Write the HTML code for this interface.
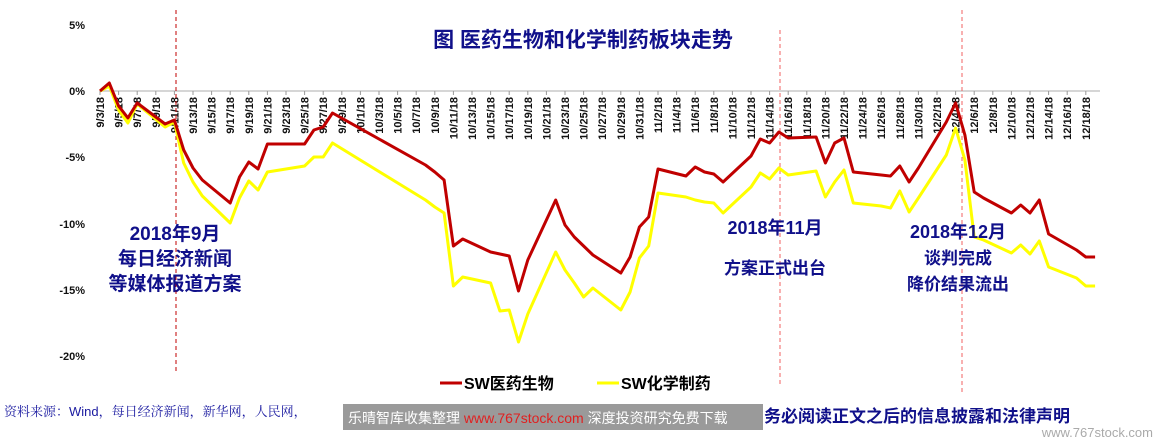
<!DOCTYPE html>
<html><head><meta charset="utf-8"><style>
html,body{margin:0;padding:0;background:#fff;}
body{width:1158px;height:441px;overflow:hidden;position:relative;font-family:"Liberation Sans","Noto Sans CJK SC",sans-serif;}
svg{position:absolute;left:0;top:0;}
</style></head><body>
<svg width="1158" height="441" viewBox="0 0 1158 441" xmlns="http://www.w3.org/2000/svg">
<line x1="100" y1="91" x2="1100" y2="91" stroke="#c8c8c8" stroke-width="1.5"/>
<g font-family="Liberation Sans, sans-serif" font-weight="bold" font-size="11" fill="#111" text-anchor="end">
<text x="85" y="29">5%</text><text x="85" y="95">0%</text><text x="85" y="161">-5%</text>
<text x="85" y="228">-10%</text><text x="85" y="294">-15%</text><text x="85" y="360">-20%</text>
</g>
<g id="xl" font-family="Liberation Sans, sans-serif" font-weight="bold" font-size="11" fill="#111" text-anchor="end"></g>
<line x1="176" y1="10" x2="176" y2="372" stroke="#c00000" stroke-width="1" stroke-dasharray="4,3"/>
<line x1="780" y1="30" x2="780" y2="385" stroke="#f06060" stroke-width="1" stroke-dasharray="4,3"/>
<line x1="962" y1="10" x2="962" y2="395" stroke="#f06060" stroke-width="1" stroke-dasharray="4,3"/>
<polyline id="yl" fill="none" stroke="#ffff00" stroke-width="3" stroke-linejoin="round"/>
<polyline id="rl" fill="none" stroke="#c00000" stroke-width="3" stroke-linejoin="round"/>
<g font-family="Liberation Sans, Noto Sans CJK SC, sans-serif" font-weight="bold" fill="#10108a">
<text x="583" y="47" font-size="21" text-anchor="middle">图 医药生物和化学制药板块走势</text>
<text x="175" y="240" font-size="19" text-anchor="middle">2018年9月</text>
<text x="175" y="265" font-size="19" text-anchor="middle">每日经济新闻</text>
<text x="175" y="290" font-size="19" text-anchor="middle">等媒体报道方案</text>
<text x="775" y="234" font-size="18" text-anchor="middle">2018年11月</text>
<text x="775" y="274" font-size="17" text-anchor="middle">方案正式出台</text>
<text x="958" y="238" font-size="18" text-anchor="middle">2018年12月</text>
<text x="958" y="264" font-size="17" text-anchor="middle">谈判完成</text>
<text x="958" y="290" font-size="17" text-anchor="middle">降价结果流出</text>
</g>
<line x1="440" y1="383" x2="462" y2="383" stroke="#c00000" stroke-width="3"/>
<text x="464" y="389" font-size="16" font-weight="bold" fill="#000" font-family="Liberation Sans, Noto Sans CJK SC, sans-serif">SW医药生物</text>
<line x1="597" y1="383" x2="619" y2="383" stroke="#ffff00" stroke-width="3"/>
<text x="621" y="389" font-size="16" font-weight="bold" fill="#000" font-family="Liberation Sans, Noto Sans CJK SC, sans-serif">SW化学制药</text>
<text x="4" y="416" font-size="13" fill="#1a1aa0" font-family="Liberation Sans, Noto Serif CJK SC, serif">资料来源：Wind，每日经济新闻，新华网，人民网，</text>
<rect x="343" y="404" width="420" height="26" fill="#888" opacity="0.85"/>
<text x="348" y="423" font-size="14" fill="#fff" font-family="Liberation Sans, Noto Sans CJK SC, sans-serif">乐晴智库收集整理 <tspan fill="#e02020">www.767stock.com</tspan> 深度投资研究免费下载</text>
<text x="764" y="422" font-size="17" font-weight="bold" fill="#10108a" font-family="Liberation Sans, Noto Sans CJK SC, sans-serif">务必阅读正文之后的信息披露和法律声明</text>
<text x="1153" y="437" font-size="13" fill="#aaa" text-anchor="end" font-family="Liberation Sans, sans-serif">www.767stock.com</text>
</svg>
<script>
var ns="http://www.w3.org/2000/svg";
function X(d){return 100+9.3*d;}
var xl=document.getElementById('xl');
var lab=[];
for(var d=0;d<=106;d+=2){var dt=new Date(2018,8,3+d);lab.push([d,(dt.getMonth()+1)+"/"+dt.getDate()+"/18"]);}
lab.forEach(function(l){var x=X(l[0]);var t=document.createElementNS(ns,'text');t.setAttribute('transform','translate('+(x+4)+',97) rotate(-90)');t.textContent=l[1];xl.appendChild(t);
var k=document.createElementNS(ns,'line');k.setAttribute('x1',x);k.setAttribute('x2',x);k.setAttribute('y1',91);k.setAttribute('y2',95);k.setAttribute('stroke','#999');xl.parentNode.insertBefore(k,xl);});
function off(m,dd){return Math.round((new Date(2018,m-1,dd)-new Date(2018,8,3))/864e5);}
var R=[[9,3,91],[9,4,83],[9,5,106],[9,6,118],[9,7,103],[9,10,124],[9,11,120],[9,12,150],[9,13,168],[9,14,180],[9,17,203],[9,18,177],[9,19,162],[9,20,169],[9,21,144],[9,25,144],[9,26,130],[9,27,127],[9,28,113],[10,8,165],[10,9,172],[10,10,180],[10,11,246],[10,12,239],[10,15,252],[10,16,254],[10,17,256],[10,18,291],[10,19,260],[10,22,200],[10,23,225],[10,24,237],[10,25,246],[10,26,255],[10,29,273],[10,30,257],[10,31,227],[11,1,217],[11,2,169],[11,5,176],[11,6,167],[11,7,172],[11,8,174],[11,9,182],[11,12,156],[11,13,139],[11,14,143],[11,15,132],[11,16,138],[11,19,137],[11,20,163],[11,21,143],[11,22,138],[11,23,172],[11,26,175],[11,27,176],[11,28,166],[11,29,182],[11,30,168],[12,3,122],[12,4,103],[12,5,135],[12,6,192],[12,7,198],[12,10,213],[12,11,205],[12,12,213],[12,13,200],[12,14,234],[12,17,250],[12,18,257],[12,19,257]];
var Y=[[9,3,91],[9,4,86],[9,5,110],[9,6,123],[9,7,104],[9,10,127],[9,11,122],[9,12,163],[9,13,182],[9,14,196],[9,17,223],[9,18,198],[9,19,181],[9,20,190],[9,21,172],[9,25,166],[9,26,157],[9,27,157],[9,28,143],[10,8,200],[10,9,207],[10,10,213],[10,11,286],[10,12,277],[10,15,283],[10,16,311],[10,17,310],[10,18,342],[10,19,314],[10,22,252],[10,23,270],[10,24,283],[10,25,297],[10,26,288],[10,29,310],[10,30,292],[10,31,258],[11,1,246],[11,2,193],[11,5,197],[11,6,200],[11,7,202],[11,8,203],[11,9,213],[11,12,187],[11,13,173],[11,14,179],[11,15,168],[11,16,175],[11,19,171],[11,20,197],[11,21,182],[11,22,170],[11,23,203],[11,26,206],[11,27,208],[11,28,191],[11,29,212],[11,30,198],[12,3,155],[12,4,128],[12,5,160],[12,6,237],[12,7,240],[12,10,253],[12,11,245],[12,12,254],[12,13,241],[12,14,267],[12,17,278],[12,18,286],[12,19,286]];
function pts(a){return a.map(function(p){return X(off(p[0],p[1])).toFixed(1)+','+p[2];}).join(' ');}
document.getElementById('rl').setAttribute('points',pts(R));
document.getElementById('yl').setAttribute('points',pts(Y));
</script>
</body></html>
